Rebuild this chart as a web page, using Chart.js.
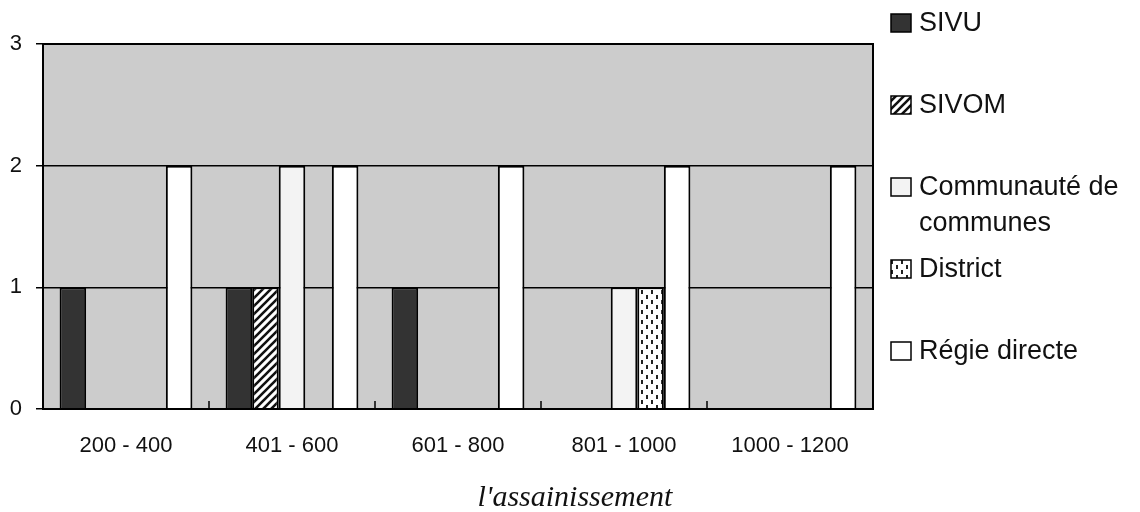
<!DOCTYPE html>
<html>
<head>
<meta charset="utf-8">
<script src="https://cdn.jsdelivr.net/npm/chart.js@4.4.1/dist/chart.umd.min.js"></script>
<style>
  html, body { margin: 0; padding: 0; background: #fff; }
  #wrap { width: 1140px; height: 512px; }
</style>
</head>
<body>
<div id="wrap"><canvas id="chart" width="1140" height="512"></canvas></div>
<script>
// data
const categories = ['200 - 400', '401 - 600', '601 - 800', '801 - 1000', '1000 - 1200'];
const seriesNames = ['SIVU', 'SIVOM', 'Communauté de communes', 'District', 'Régie directe'];
const sivu = [1, 1, 1, 0, 0];
const sivom = [0, 1, 0, 0, 0];
const communaute = [0, 2, 0, 1, 0];
const district = [0, 0, 0, 1, 0];
const regie = [2, 2, 2, 2, 2];
const yTicks = [0, 1, 2, 3];
const axisTitle = "l'assainissement";

const SANS = '"Liberation Sans", Arial, Helvetica, sans-serif';
const SERIF = '"Liberation Serif", "Times New Roman", serif';

// fill patterns
function makePattern(w, h, draw) {
    const c = document.createElement('canvas');
    c.width = w; c.height = h;
    const g = c.getContext('2d');
    draw(g, w, h);
    return document.getElementById('chart').getContext('2d').createPattern(c, 'repeat');
}

const hatch = makePattern(8, 8, (g, w, h) => {
    g.fillStyle = '#fff';
    g.fillRect(0, 0, w, h);
    g.strokeStyle = '#111';
    g.lineWidth = 2.6;
    g.beginPath();
    g.moveTo(-2, h + 2); g.lineTo(w + 2, -2);
    g.moveTo(-2, 2); g.lineTo(2, -2);
    g.moveTo(w - 2, h + 2); g.lineTo(w + 2, h - 2);
    g.stroke();
});

const dashes = makePattern(10, 10, (g, w, h) => {
    g.fillStyle = '#fff';
    g.fillRect(0, 0, w, h);
    g.fillStyle = '#222';
    g.fillRect(1, 0, 2, 4);
    g.fillRect(6, 5, 2, 4);
});

const seriesData = [sivu, sivom, communaute, district, regie];
const seriesFill = ['#333333', hatch, '#f3f3f3', dashes, '#ffffff'];

const plotDecor = {
    id: 'plotDecor',
    beforeDraw(chart) {
        const { ctx, chartArea: a } = chart;
        ctx.save();
        ctx.fillStyle = '#cccccc';
        ctx.fillRect(a.left, a.top, a.right - a.left, a.bottom - a.top);
        ctx.restore();
    },
    afterDatasetsDraw(chart) {
        const { ctx, chartArea: a } = chart;
        const x = chart.scales.x;
        ctx.save();
        ctx.strokeStyle = '#000';
        ctx.lineWidth = 2;
        ctx.strokeRect(a.left, a.top, a.right - a.left, a.bottom - a.top);
        // small inside ticks between categories
        ctx.lineWidth = 1.5;
        ctx.beginPath();
        for (let i = 0; i < categories.length - 1; i++) {
            const px = (x.getPixelForValue(i) + x.getPixelForValue(i + 1)) / 2;
            ctx.moveTo(px, a.bottom);
            ctx.lineTo(px, a.bottom - 8);
        }
        ctx.stroke();
        ctx.restore();
    },
    afterDraw(chart) {
        const { ctx } = chart;
        ctx.save();
        // legend
        const boxX = 891, textX = 919, maxW = 1140 - textX - 4;
        ctx.font = '27px ' + SANS;
        ctx.textBaseline = 'middle';
        chart.data.datasets.forEach((ds, i) => {
            const cy = 23 + i * 82;
            ctx.fillStyle = ds.backgroundColor;
            ctx.fillRect(boxX, cy - 9, 20, 18);
            ctx.strokeStyle = '#000';
            ctx.lineWidth = 1.5;
            ctx.strokeRect(boxX, cy - 9, 20, 18);
            // wrap long names
            const words = ds.label.split(' ');
            const lines = [];
            let line = '';
            words.forEach(w => {
                const t = line ? line + ' ' + w : w;
                if (ctx.measureText(t).width > maxW && line) { lines.push(line); line = w; }
                else line = t;
            });
            lines.push(line);
            ctx.fillStyle = '#111';
            lines.forEach((l, j) => ctx.fillText(l, textX, cy + 1 + j * 36));
        });
        // axis caption
        ctx.font = 'italic 30px ' + SERIF;
        ctx.textAlign = 'center';
        ctx.textBaseline = 'alphabetic';
        ctx.fillStyle = '#111';
        ctx.fillText(axisTitle, 575, 506);
        ctx.restore();
    }
};

new Chart(document.getElementById('chart'), {
    type: 'bar',
    data: {
        labels: categories,
        datasets: seriesNames.map((name, i) => ({
            label: name,
            data: seriesData[i],
            backgroundColor: seriesFill[i],
            borderColor: '#000',
            borderWidth: c => (c.raw ? 2 : 0),
            borderSkipped: 'bottom'
        }))
    },
    options: {
        responsive: false,
        animation: false,
        categoryPercentage: 0.8,
        barPercentage: 1.0,
        layout: { padding: { top: 44, right: 267, left: 0, bottom: 0 } },
        plugins: {
            legend: { display: false },
            tooltip: { enabled: false }
        },
        scales: {
            x: {
                grid: { display: false, drawTicks: false },
                border: { display: true, color: '#000', width: 2 },
                ticks: {
                    font: { family: SANS, size: 22 },
                    color: '#111',
                    padding: 24,
                    maxRotation: 0,
                    autoSkip: false
                },
                afterFit: s => { s.height = 103; }
            },
            y: {
                min: 0,
                max: 3,
                afterBuildTicks: s => { s.ticks = yTicks.map(v => ({ value: v })); },
                grid: { color: '#000', lineWidth: 1.5, tickLength: 7 },
                border: { color: '#000', width: 2 },
                ticks: {
                    font: { family: SANS, size: 22 },
                    color: '#111',
                    padding: 14
                },
                afterFit: s => { s.width = 43; }
            }
        }
    },
    plugins: [plotDecor]
});
</script>
</body>
</html>
